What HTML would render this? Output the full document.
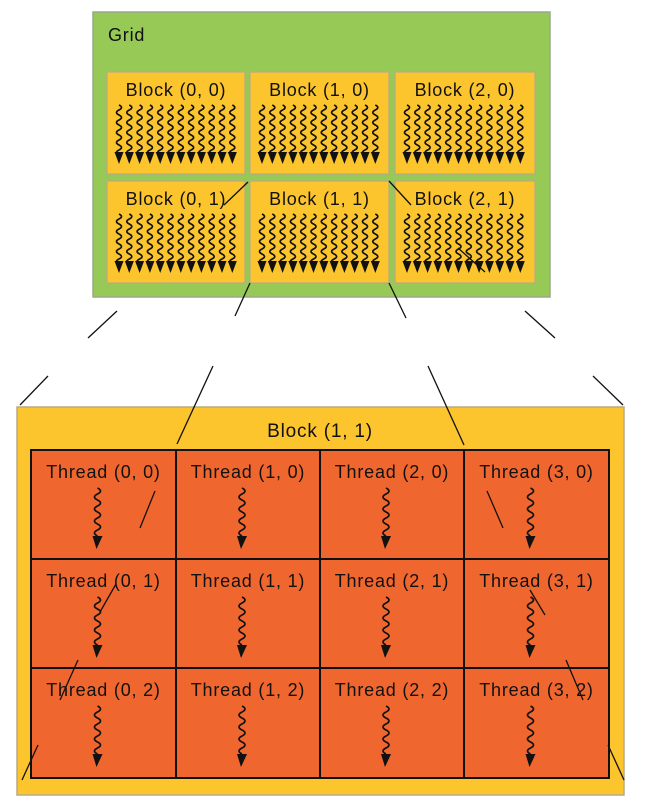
<!DOCTYPE html>
<html><head><meta charset="utf-8"><style>
html,body{margin:0;padding:0;background:#fff;width:649px;height:806px;overflow:hidden}
svg{display:block}
text{font-family:"Liberation Sans",sans-serif;fill:#111;letter-spacing:0.8px}
</style></head><body>
<svg id="s" width="649" height="806" viewBox="0 0 649 806" xmlns="http://www.w3.org/2000/svg">
<rect x="93" y="12" width="457" height="285" fill="#97c957" stroke="#9aa88a" stroke-width="1.5"/>
<text x="108" y="41" font-size="18">Grid</text>
<g id="blocks"></g>
<rect x="17" y="407" width="607" height="388" fill="#fcc52d" stroke="#b9a888" stroke-width="1.5"/>
<text x="320" y="437" font-size="19" text-anchor="middle">Block (1, 1)</text>
<g id="threads"></g>
<g stroke="#111" stroke-width="1.3" fill="none">
<line x1="117" y1="311" x2="88" y2="338"/>
<line x1="48" y1="376" x2="20" y2="405"/>
<line x1="250" y1="283" x2="235" y2="316"/>
<line x1="213" y1="366" x2="177" y2="444"/>
<line x1="389" y1="283" x2="406" y2="318"/>
<line x1="428" y1="366" x2="464" y2="445"/>
<line x1="525" y1="311" x2="555" y2="338"/>
<line x1="593" y1="376" x2="623" y2="405"/>
<line x1="224" y1="205" x2="248" y2="182"/>
<line x1="389" y1="181" x2="411" y2="205"/>
<line x1="458" y1="248" x2="485" y2="272"/>
<line x1="155" y1="491" x2="140" y2="528"/>
<line x1="487" y1="491" x2="503" y2="528"/>
<line x1="116" y1="584" x2="100" y2="612"/>
<line x1="530" y1="590" x2="545" y2="615"/>
<line x1="78" y1="660" x2="60" y2="700"/>
<line x1="566" y1="660" x2="583" y2="700"/>
<line x1="38" y1="745" x2="22" y2="780"/>
<line x1="608" y1="745" x2="624" y2="780"/>
</g>
</svg>
<script>
var NS="http://www.w3.org/2000/svg";
function el(p,t,a,txt){var e=document.createElementNS(NS,t);for(var k in a)e.setAttribute(k,a[k]);if(txt)e.textContent=txt;p.appendChild(e);return e;}
function squig(x,y0,y1,amp,per){var d="M"+x+" "+y0;var n=Math.round((y1-y0)/per);for(var i=0;i<n;i++){var y=y0+i*per;d+=" Q"+(x+amp)+" "+(y+per/4)+" "+x+" "+(y+per/2)+" Q"+(x-amp)+" "+(y+per*3/4)+" "+x+" "+(y+per);}return d;}
var B=document.getElementById("blocks");
var bx=[107,250,395],bw=[138,139,140],by=[72,181];
for(var r=0;r<2;r++)for(var c=0;c<3;c++){
 var x=bx[c],y=by[r];
 el(B,"rect",{x:x,y:y,width:bw[c],height:102,fill:"#fcc52d",stroke:"#b9a888","stroke-width":1.2});
 el(B,"text",{x:x+bw[c]/2,y:y+24,"font-size":18,"text-anchor":"middle"},"Block ("+c+", "+r+")");
 for(var i=0;i<12;i++){var sx=x+12+i*10.3;
  el(B,"path",{d:squig(sx,y+33,y+81,5,10),stroke:"#111","stroke-width":1.7,fill:"none"});
  el(B,"path",{d:"M"+(sx-4.5)+" "+(y+80)+" L"+(sx+4.5)+" "+(y+80)+" L"+sx+" "+(y+92)+"Z",fill:"#111"});
 }
}
var T=document.getElementById("threads");
var cx=[31,176,320,464,609],ry=[450,559,668,778];
for(var r=0;r<3;r++)for(var c=0;c<4;c++){
 var x=cx[c],y=ry[r],w=cx[c+1]-x,h=ry[r+1]-y;
 el(T,"rect",{x:x,y:y,width:w,height:h,fill:"#f0662f",stroke:"#111","stroke-width":2});
 el(T,"text",{x:x+w/2,y:y+28,"font-size":18,"text-anchor":"middle"},"Thread ("+c+", "+r+")");
 var sx=x+w/2-6;
 el(T,"path",{d:squig(sx,y+38,y+86,6,12),stroke:"#111","stroke-width":1.7,fill:"none"});
 el(T,"path",{d:"M"+(sx-5)+" "+(y+86)+" L"+(sx+5)+" "+(y+86)+" L"+(sx-1)+" "+(y+99)+"Z",fill:"#111"});
}
</script>
</body></html>
